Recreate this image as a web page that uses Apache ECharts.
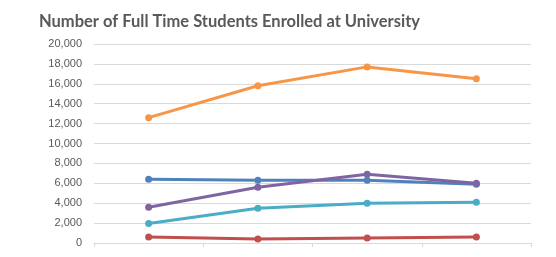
<!DOCTYPE html>
<html>
<head>
<meta charset="utf-8">
<script src="https://cdn.jsdelivr.net/npm/echarts@6/dist/echarts.min.js"></script>
<style>
  html, body { margin: 0; padding: 0; background: #fff; }
  #chart { width: 556px; height: 257px; }
</style>
</head>
<body>
<div id="chart"></div>
<script>
// 数据
var categories = ['1', '2', '3', '4'];
var orangeSeries = [12600, 15800, 17700, 16500];
var blueSeries = [6400, 6300, 6300, 5900];
var purpleSeries = [3600, 5600, 6900, 6000];
var tealSeries = [1950, 3500, 4000, 4100];
var redSeries = [600, 400, 500, 600];

(function () {
  var myChart = echarts.init(document.getElementById('chart'));

  function line(name, color, data) {
    return {
      name: name,
      type: 'line',
      data: data,
      symbol: 'circle',
      symbolSize: 7,
      lineStyle: { width: 3, color: color },
      itemStyle: { color: color },
      emphasis: { disabled: true }
    };
  }

  var option = {
    animation: false,
    title: {
      text: 'Number of Full Time Students Enrolled at University',
      left: 34,
      top: 8,
      textStyle: {
        fontFamily: 'Lato',
        fontSize: 16.5,
        fontWeight: 'bold',
        color: '#595959'
      }
    },
    grid: {
      left: 94,
      right: 25,
      top: 44,
      bottom: 14
    },
    xAxis: {
      type: 'category',
      data: categories,
      boundaryGap: true,
      axisLabel: { show: false },
      axisLine: { lineStyle: { color: '#d9d9d9' } },
      axisTick: { show: true, length: 4, lineStyle: { color: '#d9d9d9' } },
      splitLine: { show: false }
    },
    yAxis: {
      type: 'value',
      min: 0,
      max: 20000,
      interval: 2000,
      axisLine: { show: false },
      axisTick: { show: false },
      axisLabel: {
        color: '#595959',
        fontFamily: 'Liberation Sans',
        fontSize: 11,
        margin: 12,
        formatter: function (v) { return v.toLocaleString('en-US'); }
      },
      splitLine: { lineStyle: { color: '#d9d9d9' } }
    },
    series: [
      line('Orange', '#F79646', orangeSeries),
      line('Blue', '#4F81BD', blueSeries),
      line('Purple', '#8064A2', purpleSeries),
      line('Teal', '#4BACC6', tealSeries),
      line('Red', '#C0504D', redSeries)
    ]
  };
  myChart.setOption(option);
})();
</script>
</body>
</html>
